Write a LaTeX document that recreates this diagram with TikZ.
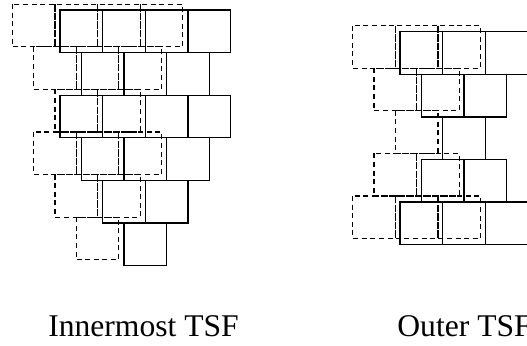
\documentclass[tikz,border=0pt]{standalone}
\usepackage{fontspec}
\setmainfont{Liberation Serif}
\tikzset{
  tile/.style={draw=black, line width=0.65pt},
  ghost/.style={draw=black, line width=0.6pt, dash pattern=on 2.5pt off 1.8pt},
  caption/.style={font=\fontsize{15.8}{19}\selectfont, inner sep=0pt}
}

\begin{document}
\begin{tikzpicture}[x=21.3pt, y=-21.3pt]
  \useasboundingbox (0,0) rectangle (12.371,8.122);
  % innermost: shifted copy first (row start / row top / tiles)
  \foreach \x/\y/\n in {0.29/0.10/4, 0.79/1.10/3, 1.29/2.10/2, 0.79/3.10/3, 1.29/4.10/2, 1.79/5.10/1} {
    \foreach \i in {1,...,\n}
      \draw[ghost] (\x+\i-1,\y) rectangle ++(1,1);
  }
  \foreach \x/\y/\n in {1.41/0.235/4, 1.91/1.235/3, 1.41/2.235/4, 1.91/3.235/3, 2.41/4.235/2, 2.91/5.235/1} {
    \foreach \i in {1,...,\n}
      \draw[tile] (\x+\i-1,\y) rectangle ++(1,1);
  }
  % outer
  \foreach \x/\y/\n in {8.28/0.60/3, 8.78/1.60/2, 9.28/2.60/1, 8.78/3.60/2, 8.28/4.60/3} {
    \foreach \i in {1,...,\n}
      \draw[ghost] (\x+\i-1,\y) rectangle ++(1,1);
  }
  \foreach \x/\y/\n in {9.39/0.744/3, 9.89/1.744/2, 10.39/2.744/1, 9.89/3.744/2, 9.39/4.744/3} {
    \foreach \i in {1,...,\n}
      \draw[tile] (\x+\i-1,\y) rectangle ++(1,1);
  }
  \node[caption, anchor=base] (inner) at (3.37,7.89) {Innermost TSF};
  \node[caption, anchor=base west] (outer) at (9.32,7.89) {Outer TSF};
\end{tikzpicture}
\end{document}
